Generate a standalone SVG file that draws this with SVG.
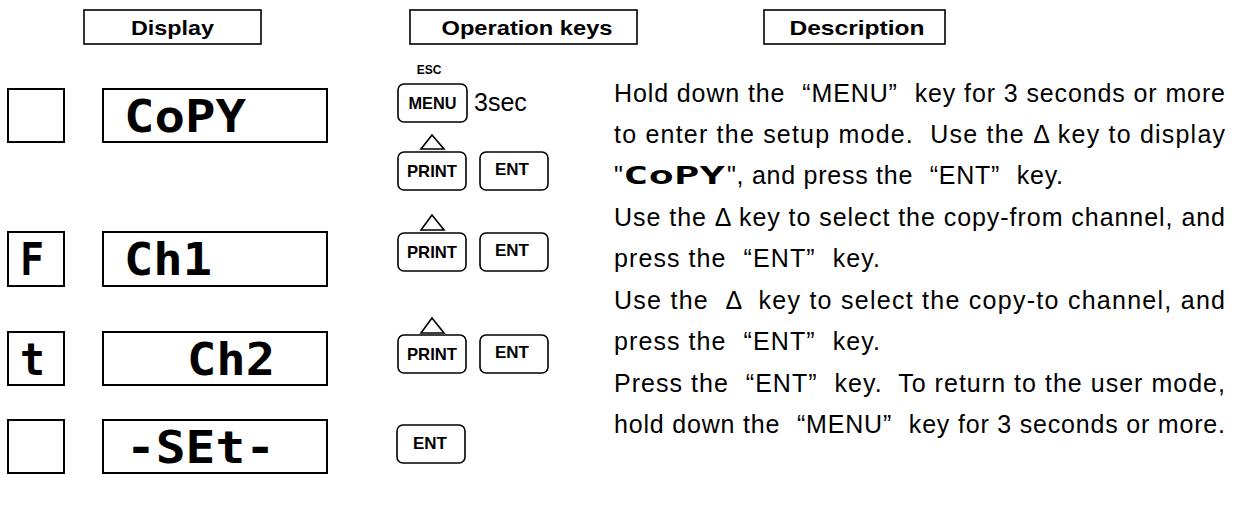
<svg xmlns="http://www.w3.org/2000/svg" width="1234" height="506" viewBox="0 0 1234 506">
<style>
.hbox{fill:#fff;stroke:#000;stroke-width:1.6}
.dbox{fill:#fff;stroke:#000;stroke-width:2}
.key{fill:#fff;stroke:#000;stroke-width:1.6}
.tri{fill:none;stroke:#000;stroke-width:1.6;stroke-linejoin:miter}
.h{font-family:"Liberation Sans",Arial,sans-serif;font-weight:bold;font-size:21px;fill:#000;text-anchor:middle}
.k{font-family:"Liberation Sans",Arial,sans-serif;font-weight:bold;font-size:17px;fill:#000;text-anchor:middle}
.esc{font-family:"Liberation Sans",Arial,sans-serif;font-weight:bold;font-size:12px;fill:#000;text-anchor:middle}
.seg{font-family:"DejaVu Sans Mono",monospace;font-weight:bold;font-size:44px;fill:#000}
.segs{font-family:"DejaVu Sans Mono",monospace;font-weight:bold;font-size:24px;fill:#000}
.d{font-family:"Liberation Sans",Arial,sans-serif;font-size:25px;fill:#000;white-space:pre}
</style>
<g id="header-display"><rect class="hbox" x="84" y="10" width="177" height="34"/><text class="h" x="172.5" y="35" textLength="83" lengthAdjust="spacingAndGlyphs">Display</text></g>
<g id="header-keys"><rect class="hbox" x="410" y="10" width="227" height="34"/><text class="h" x="527" y="35" textLength="171" lengthAdjust="spacingAndGlyphs">Operation keys</text></g>
<g id="header-desc"><rect class="hbox" x="764" y="10" width="181" height="34"/><text class="h" x="857" y="35" textLength="135" lengthAdjust="spacingAndGlyphs">Description</text></g>

<g id="row1-display">
<rect class="dbox" x="8" y="89" width="56" height="53"/>
<rect class="dbox" x="103" y="89" width="224" height="53"/>
<text class="seg" x="124" y="132" textLength="122" lengthAdjust="spacingAndGlyphs">CoPY</text>
</g>
<g id="row2-display">
<rect class="dbox" x="8" y="232" width="56" height="54"/>
<text class="seg" x="20" y="275" textLength="24" lengthAdjust="spacingAndGlyphs">F</text>
<rect class="dbox" x="103" y="232" width="224" height="54"/>
<text class="seg" x="124" y="275" textLength="88" lengthAdjust="spacingAndGlyphs">Ch1</text>
</g>
<g id="row3-display">
<rect class="dbox" x="8" y="332" width="56" height="53"/>
<text class="seg" x="20" y="375" textLength="25" lengthAdjust="spacingAndGlyphs">t</text>
<rect class="dbox" x="103" y="332" width="224" height="53"/>
<text class="seg" x="187" y="375" textLength="88" lengthAdjust="spacingAndGlyphs">Ch2</text>
</g>
<g id="row4-display">
<rect class="dbox" x="8" y="420" width="56" height="53"/>
<rect class="dbox" x="103" y="420" width="224" height="53"/>
<text class="seg" x="126" y="463" textLength="149" lengthAdjust="spacingAndGlyphs">-SEt-</text>
</g>

<g id="row1-keys">
<text class="esc" x="429" y="74">ESC</text>
<rect class="key" x="398" y="84" width="69" height="38" rx="6"/>
<text class="k" x="432.5" y="109" textLength="48" lengthAdjust="spacingAndGlyphs">MENU</text>
<text class="d" x="474" y="111">3sec</text>
<polygon class="tri" points="432,135 421,149 444,149"/>
<rect class="key" x="398" y="152" width="68" height="38" rx="6"/>
<text class="k" x="432" y="177" textLength="50" lengthAdjust="spacingAndGlyphs">PRINT</text>
<rect class="key" x="480" y="152" width="68" height="38" rx="6"/>
<text class="k" x="512" y="175">ENT</text>
</g>
<g id="row2-keys">
<polygon class="tri" points="432,215 421,230 444,230"/>
<rect class="key" x="398" y="233" width="68" height="38" rx="6"/>
<text class="k" x="432" y="258" textLength="50" lengthAdjust="spacingAndGlyphs">PRINT</text>
<rect class="key" x="480" y="233" width="68" height="38" rx="6"/>
<text class="k" x="512" y="256">ENT</text>
</g>
<g id="row3-keys">
<polygon class="tri" points="432,318 421,333 444,333"/>
<rect class="key" x="398" y="335" width="68" height="38" rx="6"/>
<text class="k" x="432" y="360" textLength="50" lengthAdjust="spacingAndGlyphs">PRINT</text>
<rect class="key" x="480" y="335" width="68" height="38" rx="6"/>
<text class="k" x="512" y="358">ENT</text>
</g>
<g id="row4-keys">
<rect class="key" x="397" y="425" width="68" height="38" rx="6"/>
<text class="k" x="430" y="449">ENT</text>
</g>

<g id="description">
<text class="d" x="614" y="102" textLength="611" lengthAdjust="spacing">Hold down the <tspan dx="9">“</tspan>MENU”<tspan dx="9"> key for 3 seconds or more</tspan></text>
<text class="d" x="614" y="143" textLength="611" lengthAdjust="spacing">to enter the setup mode.  Use the Δ key to display</text>
<text class="d" x="614" y="184">"</text>
<text class="segs" x="623" y="184" textLength="102" lengthAdjust="spacingAndGlyphs">CoPY</text>
<text class="d" x="727" y="184" textLength="336" lengthAdjust="spacing">", and press the <tspan dx="9">“</tspan>ENT”<tspan dx="9"> key.</tspan></text>
<text class="d" x="614" y="226" textLength="611" lengthAdjust="spacing">Use the Δ key to select the copy-from channel, and</text>
<text class="d" x="614" y="267" textLength="266" lengthAdjust="spacing">press the <tspan dx="9">“</tspan>ENT”<tspan dx="9"> key.</tspan></text>
<text class="d" x="614" y="309" textLength="611" lengthAdjust="spacing">Use the  Δ  key to select the copy-to channel, and</text>
<text class="d" x="614" y="350" textLength="266" lengthAdjust="spacing">press the <tspan dx="9">“</tspan>ENT”<tspan dx="9"> key.</tspan></text>
<text class="d" x="614" y="392" textLength="611" lengthAdjust="spacing">Press the <tspan dx="9">“</tspan>ENT”<tspan dx="9"> key.  To return to the user mode,</tspan></text>
<text class="d" x="614" y="433" textLength="611" lengthAdjust="spacing">hold down the <tspan dx="9">“</tspan>MENU”<tspan dx="9"> key for 3 seconds or more.</tspan></text>
</g>
<g id="connectors"/>
</svg>
